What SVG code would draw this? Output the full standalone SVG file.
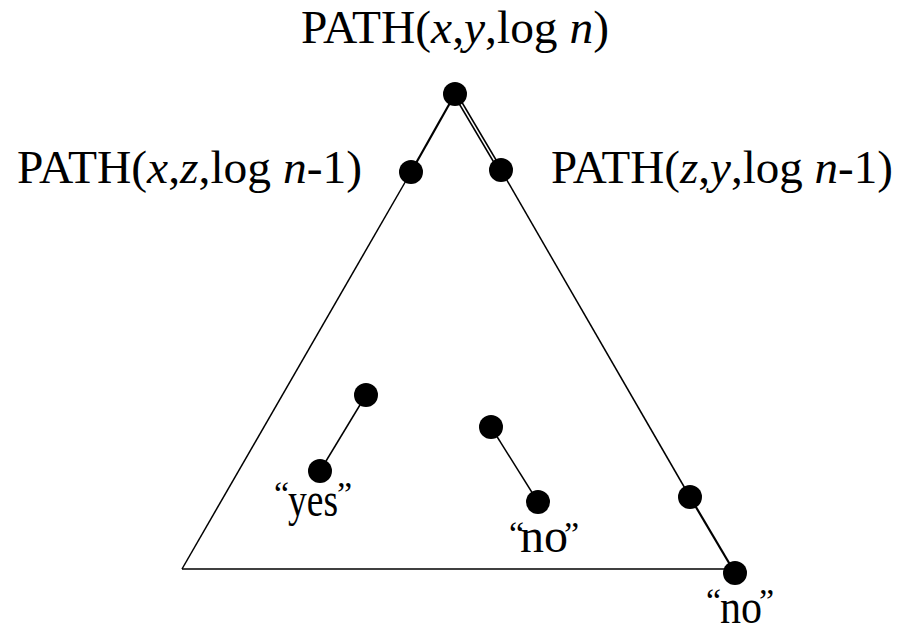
<svg xmlns="http://www.w3.org/2000/svg" width="898" height="631" viewBox="0 0 898 631">
<style>
text{font-family:'Liberation Serif','Times New Roman',serif;fill:#000}
.lbl{font-size:46px}
.sm{font-size:48px}
.q{font-size:34px}
.it{font-style:italic}
.edge{stroke:#000;stroke-width:1.5;fill:none}
.thick{stroke:#000;stroke-width:2.2;fill:none}
.dot{fill:#000}
</style>
<rect width="898" height="631" fill="#fff"/>
<g id="connectors">
<line class="edge" x1="411" y1="172" x2="182" y2="569"/>
<line class="edge" x1="182" y1="569" x2="735" y2="569"/>
<line class="edge" x1="501" y1="170" x2="690" y2="497"/>
<line class="thick" x1="455" y1="94" x2="411" y2="172"/>
<line class="edge" x1="454" y1="95" x2="499" y2="171"/>
<line class="edge" x1="457" y1="94" x2="502" y2="170"/>
<line class="thick" x1="690" y1="497" x2="735" y2="573"/>
<line class="edge" x1="366" y1="395" x2="320" y2="471"/>
<line class="edge" x1="491" y1="427" x2="538" y2="502"/>
</g>
<g id="n-top"><circle class="dot" cx="455" cy="94" r="12"/>
<text class="lbl" x="301" y="43" textLength="308" lengthAdjust="spacingAndGlyphs">PATH(<tspan class="it">x</tspan>,<tspan class="it">y</tspan>,log <tspan class="it">n</tspan>)</text></g>
<g id="n-left"><circle class="dot" cx="411" cy="172" r="12"/>
<text class="lbl" x="17" y="183" textLength="345" lengthAdjust="spacingAndGlyphs">PATH(<tspan class="it">x</tspan>,<tspan class="it">z</tspan>,log <tspan class="it">n</tspan>-1)</text></g>
<g id="n-right"><circle class="dot" cx="501" cy="170" r="12"/>
<text class="lbl" x="551" y="183" textLength="342" lengthAdjust="spacingAndGlyphs">PATH(<tspan class="it">z</tspan>,<tspan class="it">y</tspan>,log <tspan class="it">n</tspan>-1)</text></g>
<g id="n-a"><circle class="dot" cx="366" cy="395" r="12"/></g>
<g id="n-yes"><circle class="dot" cx="320" cy="471" r="12"/>
<text><tspan class="q" x="274" y="505">“</tspan><tspan class="sm" x="288" y="516" textLength="50" lengthAdjust="spacingAndGlyphs">yes</tspan><tspan class="q" x="337" y="505">”</tspan></text></g>
<g id="n-b"><circle class="dot" cx="491" cy="427" r="12"/></g>
<g id="n-no1"><circle class="dot" cx="538" cy="502" r="12"/>
<text><tspan class="q" x="509" y="545">“</tspan><tspan class="sm" x="520" y="552" textLength="48" lengthAdjust="spacingAndGlyphs">no</tspan><tspan class="q" x="564" y="545">”</tspan></text></g>
<g id="n-c"><circle class="dot" cx="690" cy="497" r="12"/></g>
<g id="n-no2"><circle class="dot" cx="735" cy="573" r="12"/>
<text><tspan class="q" x="706" y="612">“</tspan><tspan class="sm" x="720" y="623" textLength="42" lengthAdjust="spacingAndGlyphs">no</tspan><tspan class="q" x="759" y="612">”</tspan></text></g>
</svg>
